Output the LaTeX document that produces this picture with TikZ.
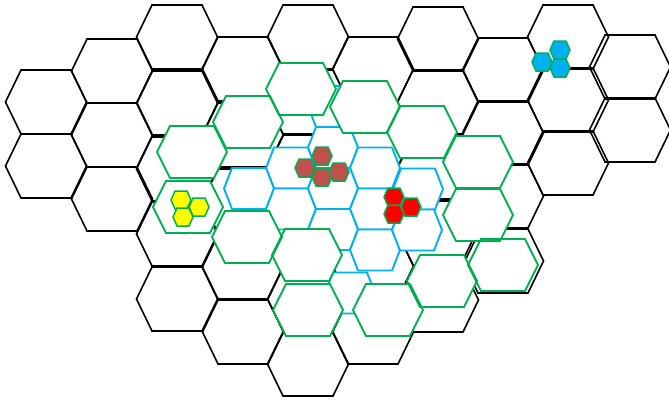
\documentclass[tikz,border=0pt]{standalone}
\definecolor{hgreen}{HTML}{00B050}
\definecolor{hblue}{HTML}{00B0F0}
\definecolor{hbrown}{HTML}{C0504D}
\definecolor{hyellow}{HTML}{FFFF00}
\definecolor{hred}{HTML}{FF0000}
% hexcell{style}{cx}{cy}{half width}{half top edge}{half height}
\newcommand{\hexcell}[6]{\path[#1] (#2,#3) ++(-#4,0) -- ++(#4-#5,-#6) -- ++(2*#5,0) -- ++(#4-#5,#6) -- ++(#5-#4,#6) -- ++(-2*#5,0) -- cycle;}
\newcommand{\bhex}[2]{\hexcell{gridhex}{#1}{#2}{40.5}{25}{32}}
\newcommand{\uhex}[2]{\hexcell{bluehex}{#1}{#2}{25}{17}{20.5}}
\newcommand{\gfill}[2]{\hexcell{greenfill}{#1}{#2}{35}{22}{26}}
\newcommand{\gline}[2]{\hexcell{greenline}{#1}{#2}{35}{22}{26}}
\newcommand{\shex}[3]{\hexcell{smallhex,fill=#1}{#2}{#3}{10}{6}{9}}
\tikzset{
  gridhex/.style={draw=black, line width=1.6bp, line join=miter},
  bluehex/.style={draw=hblue, line width=1.9bp, fill=white},
  greenfill/.style={fill=white},
  greenline/.style={draw=hgreen, line width=1.9bp},
  smallhex/.style={draw=hgreen, line width=1.5bp},
}
\begin{document}
\begin{tikzpicture}[x=1bp,y=-1bp]
\useasboundingbox (0,0) rectangle (669,399);
% black grid
\foreach \yy in {102,166} {\bhex{46}{\yy}}
\foreach \yy in {71,135,199} {\bhex{112}{\yy}}
\foreach \yy in {37,103,169,234,299} {\bhex{177}{\yy}}
\foreach \yy in {69,135,201,267,332} {\bhex{243}{\yy}}
\foreach \yy in {37,102,167,233,299,364} {\bhex{308}{\yy}}
\foreach \yy in {69,135,200,266,332} {\bhex{373}{\yy}}
\foreach \yy in {39,102,167,233,300} {\bhex{438}{\yy}}
\foreach \yy in {70,133,196,261} {\bhex{503}{\yy}}
\foreach \yy in {37,100,163} {\bhex{568}{\yy}}
\foreach \yy in {67,130} {\bhex{630}{\yy}}
% blue cells
\uhex{333}{106.5}
\uhex{291}{168}
\uhex{333}{147.5}
\uhex{375}{168}
\uhex{249}{188.5}
\uhex{291}{209}
\uhex{333}{188.5}
\uhex{375}{209}
\uhex{418}{189}
\uhex{333}{229.5}
\uhex{375}{250}
\uhex{417}{230}
\uhex{350}{293}
% green cells: fills first, then outlines
\foreach \gx/\gy in {301/89,248/122,192/152,188/207,365/107,422/132,478/162,478/215,503/265,442/281,388/310,308/310,307/255,247/237} {\gfill{\gx}{\gy}}
\foreach \gx/\gy in {301/89,248/122,192/152,188/207,365/107,422/132,478/162,478/215,503/265,442/281,388/310,308/310,307/255,247/237} {\gline{\gx}{\gy}}
% small clusters
\shex{hyellow}{181}{200}
\shex{hyellow}{199}{207}
\shex{hyellow}{183}{217}
\shex{hbrown}{322}{156}
\shex{hbrown}{305}{168}
\shex{hbrown}{322}{177}
\shex{hbrown}{339}{172}
\shex{hred}{394}{197}
\shex{hred}{411}{207}
\shex{hred}{394}{214}
\shex{hblue}{560}{50}
\shex{hblue}{542}{62}
\shex{hblue}{560}{68}
\end{tikzpicture}
\end{document}
